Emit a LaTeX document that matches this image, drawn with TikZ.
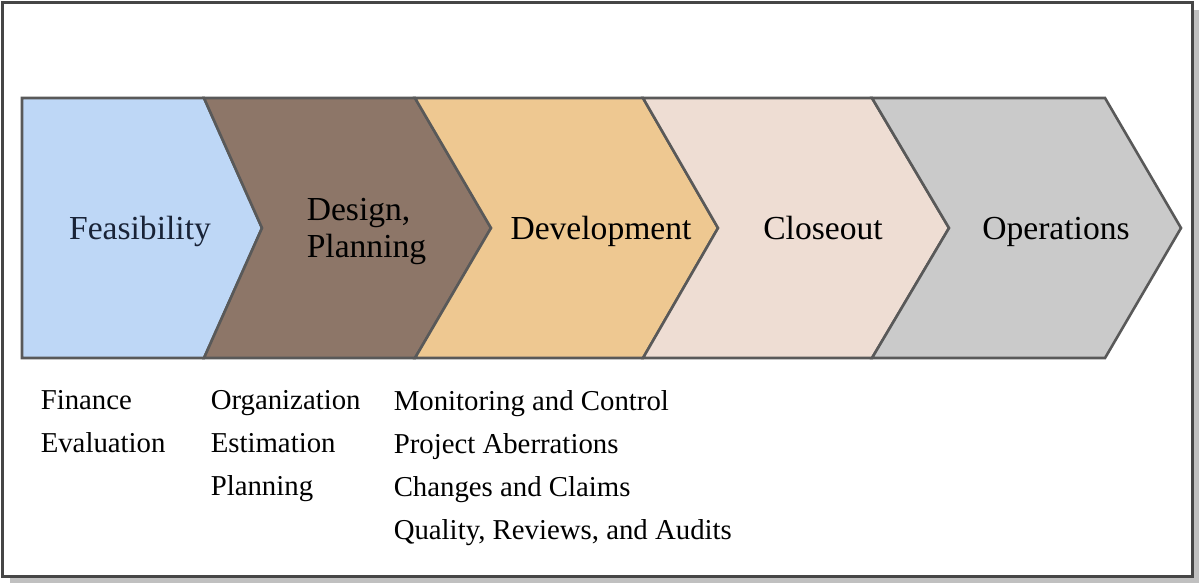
\documentclass[tikz,border=0pt]{standalone}
\usepackage{fontspec}
\setmainfont{Liberation Serif}

\tikzset{every picture/.style={line width=0.75pt}}
\tikzset{
  phase/.style={draw={rgb, 255:red, 89; green, 89; blue, 89 }, line width=1.3pt, line join=miter},
  phase label/.style={inner sep=0pt, font=\fontsize{16.8}{18.5}\selectfont},
  task list/.style={inner sep=0pt, align=left, anchor=north west, font=\fontsize{14.4}{21.5}\selectfont},
}

\begin{document}
\begin{tikzpicture}[x=0.5pt,y=0.5pt,yscale=-1,xscale=1]
\useasboundingbox (0,0) rectangle (1202,586);

%Shape: Rectangle [shadow]
\fill [color={rgb, 255:red, 192; green, 192; blue, 192 }] (10,10) rectangle (1199,583) ;
%Shape: Rectangle [frame]
\draw [fill=white, draw={rgb, 255:red, 70; green, 70; blue, 70 }, line width=1.5pt] (2.5,2.5) rectangle (1192,576) ;

%Shape: Chevron [feasibility]
\draw [phase, fill={rgb, 255:red, 190; green, 215; blue, 246 }] (22,98) -- (204,98) -- (262,228) -- (204,358) -- (22,358) -- cycle ;
%Shape: Chevron [design]
\draw [phase, fill={rgb, 255:red, 141; green, 118; blue, 104 }] (204,98) -- (415,98) -- (491,228) -- (415,358) -- (204,358) -- (262,228) -- cycle ;
%Shape: Chevron [development]
\draw [phase, fill={rgb, 255:red, 238; green, 200; blue, 145 }] (415,98) -- (643,98) -- (718,228) -- (643,358) -- (415,358) -- (491,228) -- cycle ;
%Shape: Chevron [closeout]
\draw [phase, fill={rgb, 255:red, 238; green, 221; blue, 211 }] (643,98) -- (872,98) -- (949,228) -- (872,358) -- (643,358) -- (718,228) -- cycle ;
%Shape: Chevron [operations]
\draw [phase, fill={rgb, 255:red, 202; green, 202; blue, 202 }] (872,98) -- (1105,98) -- (1181,228) -- (1105,358) -- (872,358) -- (949,228) -- cycle ;

% Text Node
\draw (140,239) node (feas) [phase label, anchor=base, color={rgb, 255:red, 25; green, 35; blue, 55 }] {Feasibility};
% Text Node
\draw (306,197) node (design) [phase label, anchor=north west, align=left] {Design,\\Planning};
% Text Node
\draw (601,239) node (devel) [phase label, anchor=base] {Development};
% Text Node
\draw (823,239) node (close) [phase label, anchor=base] {Closeout};
% Text Node
\draw (1056,239) node (oper) [phase label, anchor=base] {Operations};

% Text Node
\draw (40,389.5) node (feastasks) [task list] {Finance\\Evaluation};
% Text Node
\draw (210,389.5) node (designtasks) [task list] {Organization\\Estimation\\Planning};
% Text Node
\draw (393,389.5) node (develtasks) [task list] {Monitoring and Control\\Project Aberrations\\Changes and Claims\\Quality, Reviews, and Audits};

\end{tikzpicture}
\end{document}
